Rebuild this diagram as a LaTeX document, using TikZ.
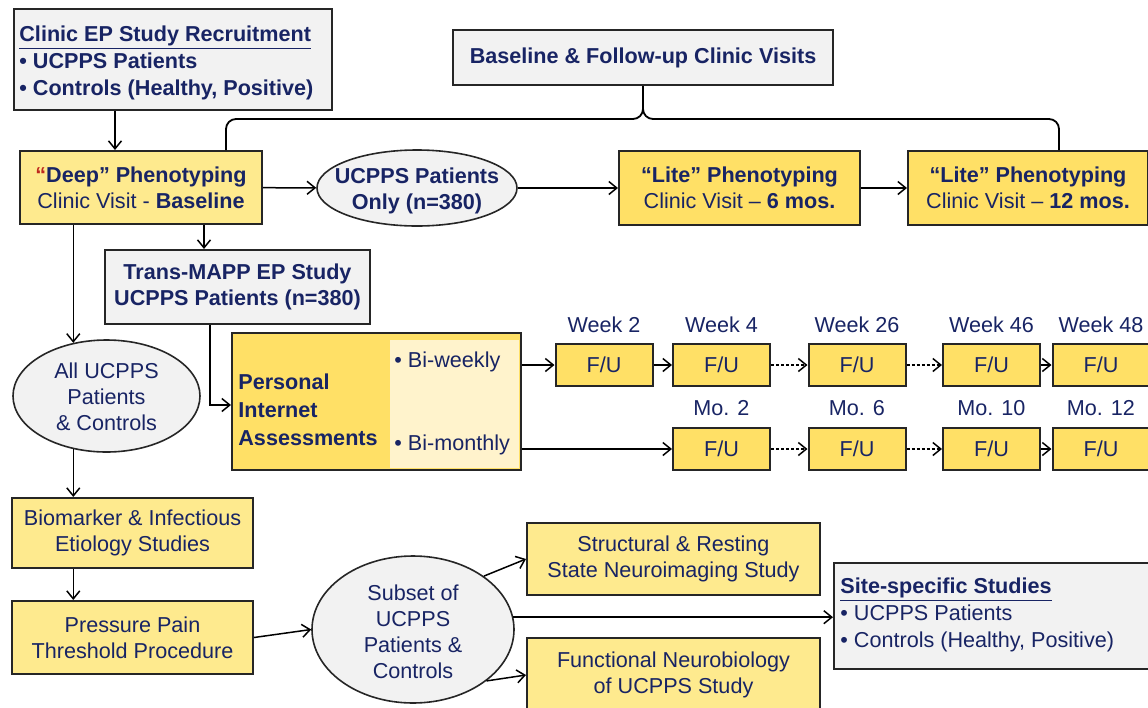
\documentclass[tikz,border=0pt]{standalone}
\usepackage{fontspec}
\setmainfont{Liberation Sans}
\usetikzlibrary{arrows.meta,positioning,shapes.geometric}
\definecolor{navytext}{RGB}{24,36,100}
\definecolor{palegold}{RGB}{254,234,142}
\definecolor{richgold}{RGB}{255,224,102}
\definecolor{cream}{RGB}{255,243,204}
\definecolor{boxgray}{RGB}{242,242,242}
\definecolor{quotered}{RGB}{190,40,30}
\newcommand{\fsz}{\fontsize{10.8}{13}\selectfont}

\begin{document}
\begin{tikzpicture}[
      x=0.5pt, y=-0.5pt,
      box/.style={draw=black!85, line width=1pt, align=center, inner sep=0pt,
                  font=\fsz, text=navytext},
      graybox/.style={box, fill=boxgray},
      lightbox/.style={box, fill=palegold},
      goldbox/.style={box, fill=richgold},
      fubox/.style={goldbox, minimum width=48.5pt, minimum height=21pt},
      oval/.style={ellipse, draw=black!85, line width=0.8pt, fill=boxgray,
                   inner sep=0pt},
      lbl/.style={font=\fsz, text=navytext, inner sep=0pt, align=center},
      arrow/.style={-{Straight Barb[length=4pt,width=6.5pt]}, line width=0.75pt},
      dotarrow/.style={arrow, dash pattern=on 1.6pt off 0.9pt},
      brace/.style={line width=0.9pt, rounded corners=5pt},
    ]
    \useasboundingbox (0,0) rectangle (1148,708);

    % top part
    \node[graybox, minimum width=159pt, minimum height=50.5pt] (recruit) at (173,59.5) {};
    \node[lbl, anchor=west, align=left, font=\fsz\bfseries] (recruittext)
          at ([xshift=3pt,yshift=-1.5pt]recruit.west)
          {\underline{Clinic EP Study Recruitment}\\[0.5pt]
           • UCPPS Patients\\[0.5pt] • Controls (Healthy, Positive)};
    \node[graybox, minimum width=190pt, minimum height=27.5pt,
          font=\fsz\bfseries] (visits) at (643,57.5)
          {Baseline \& Follow-up Clinic Visits};
    \node[lightbox, minimum width=121pt, minimum height=36.5pt] (deep) at (141,187.5)
          {{\color{quotered}\bfseries “}\textbf{Deep” Phenotyping}\\Clinic Visit - \textbf{Baseline}};
    \node[oval, minimum width=100pt, minimum height=38pt] (only) at (417,188) {};
    \node[lbl, font=\fsz\bfseries] (onlytext) at ([yshift=-1.25pt]only)
          {UCPPS Patients\\Only (n=380)};
    \node[goldbox, minimum width=120.5pt, minimum height=37pt] (lite6) at (739.5,188)
          {\textbf{“Lite” Phenotyping}\\Clinic Visit – \textbf{6 mos.}};
    \node[goldbox, minimum width=120pt, minimum height=37pt] (lite12) at (1028,188)
          {\textbf{“Lite” Phenotyping}\\Clinic Visit – \textbf{12 mos.}};

    \draw[brace] ([xshift=42.5pt]deep.north) |- ([yshift=-16.5pt]visits.south) -- (visits.south);
    \draw[brace] ([xshift=15.5pt]lite12.north) |- ([yshift=-16.5pt]visits.south) -- (visits.south);

    \draw[arrow] ([xshift=-29pt]recruit.south) -- ([xshift=-29pt]recruit.south |- deep.north);
    \draw[arrow] (deep) -- (only);
    \draw[arrow] (only) -- (lite6);
    \draw[arrow] (lite6) -- (lite12);

    % middle part
    \node[graybox, minimum width=132.5pt, minimum height=37pt,
          font=\fsz\bfseries] (transmapp) at (237.5,287)
          {Trans-MAPP EP Study\\UCPPS Patients (n=380)};
    \node[goldbox, minimum width=144.5pt, minimum height=68.5pt] (personal) at (376.5,401.5) {};
    \fill[cream] ([xshift=-1.5pt,yshift=-4pt]personal.north east)
      rectangle ([xshift=-66pt,yshift=1.5pt]personal.south east);
    \node[lbl, anchor=west, align=left, font=\fsz\bfseries] (pialabel) at (238,410)
          {Personal\\[1pt]Internet\\[1pt]Assessments};
    \node[lbl, anchor=west] (biweekly) at (394,362) {• Bi-weekly};
    \node[lbl, anchor=west] (bimonthly) at (394,445) {• Bi-monthly};

    \foreach \col/\xc/\wk in {1/604/2, 2/721.5/4, 3/857/26, 4/991.5/46, 5/1101/48}{
      \node[fubox] (w\col) at (\xc,365) {F/U};
      \node[lbl] (wl\col) at (\xc,325) {Week \wk};
    }
    \foreach \col/\xc/\mo in {2/721.5/2, 3/857/6, 4/991.5/10, 5/1101/12}{
      \node[fubox] (m\col) at (\xc,449) {F/U};
      \node[lbl] (ml\col) at (\xc,408) {Mo. \mo};
    }

    \draw[arrow] (personal.east |- w1) -- (w1);
    \draw[arrow] (w1) -- (w2);
    \draw[dotarrow] (w2) -- (w3); \draw[dotarrow] (w3) -- (w4);
    \draw[arrow] (w4) -- (w5);
    \draw[arrow] (personal.east |- m2) -- (m2);
    \draw[dotarrow] (m2) -- (m3); \draw[dotarrow] (m3) -- (m4);
    \draw[arrow] (m4) -- (m5);

    \draw[arrow] ([xshift=50pt]transmapp.north west |- deep.south) -- ([xshift=50pt]transmapp.north west);
    \draw[arrow] ([xshift=-13.75pt]transmapp.south) |- ([yshift=-1.75pt]personal.west);

    % left column and bottom part
    \node[oval, minimum width=93.5pt, minimum height=56pt] (all) at (106.5,396) {};
    \node[lbl] (alltext) at ([yshift=-0.5pt]all) {All UCPPS\\Patients\\\& Controls};
    \node[lightbox, minimum width=120.5pt, minimum height=35pt] (biomarker) at (132.5,533)
          {Biomarker \& Infectious\\Etiology Studies};
    \node[lightbox, minimum width=120.5pt, minimum height=36.5pt] (pressure) at (132.5,637.5)
          {Pressure Pain\\Threshold Procedure};
    \node[oval, minimum width=101pt, minimum height=73.5pt] (subset) at (413,629.5) {};
    \node[lbl] (subsettext) at ([yshift=-1pt]subset) {Subset of\\UCPPS\\Patients \&\\Controls};
    \node[lightbox, minimum width=146.5pt, minimum height=36pt] (structural) at (673.5,559)
          {Structural \& Resting\\State Neuroimaging Study};
    \node[lightbox, minimum width=146.5pt, minimum height=37pt] (functional) at (673.5,675)
          {Functional Neurobiology\\of UCPPS Study};
    \node[graybox, minimum width=158pt, minimum height=53pt] (site) at (992,616) {};
    \node[lbl, anchor=west, align=left] (sitetext) at ([xshift=3.5pt,yshift=0.75pt]site.west)
          {\textbf{\underline{Site-specific Studies}}\\[0.5pt]
           • UCPPS Patients\\[0.5pt] • Controls (Healthy, Positive)};

    \draw[arrow] (all.122 |- deep.south) -- (all.122);
    \draw[arrow] (all.238) -- (all.238 |- biomarker.north);
    \draw[arrow] (biomarker.south -| all.238) -- (pressure.north -| all.238);
    \draw[arrow] (pressure.east) -- (subset.west);
    \draw[arrow] (subset.37) -- (structural.west);
    \draw[arrow] (subset.-35) -- (functional.west);
    \draw[arrow] (subset.7) -- (subset.7 -| site.west);
  \end{tikzpicture}
\end{document}
